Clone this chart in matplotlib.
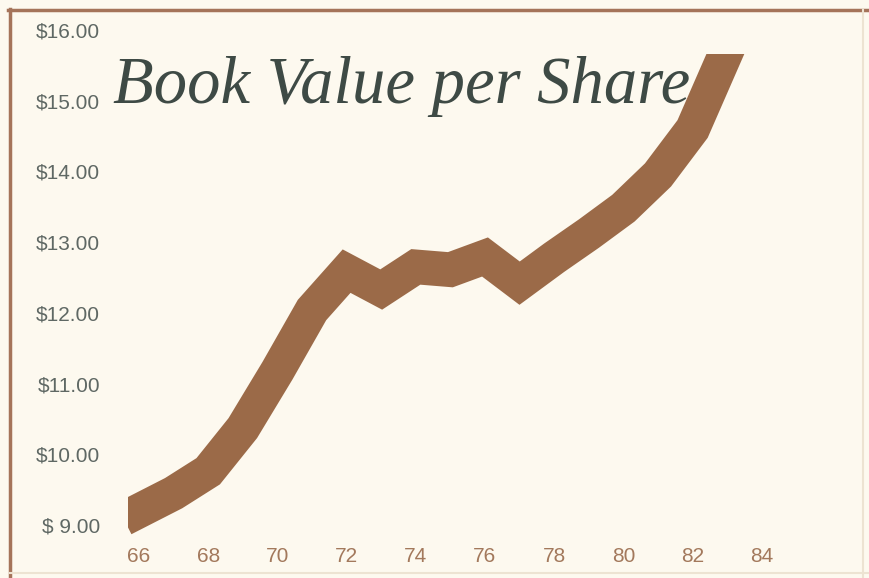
import matplotlib
matplotlib.use("Agg")
import matplotlib.pyplot as plt
from matplotlib.patches import Rectangle
from matplotlib.lines import Line2D

# data
years = [66, 67, 68, 69, 70, 71, 72, 73, 74, 75, 76, 77, 78, 79, 80, 81, 82, 83]
book_value = [9.20, 9.45, 9.76, 10.37, 11.18, 12.04, 12.59, 12.33, 12.65, 12.61,
              12.79, 12.42, 12.78, 13.12, 13.48, 13.95, 14.60, 15.72]
x_ticks = [66, 68, 70, 72, 74, 76, 78, 80, 82, 84]
y_ticks = [9, 10, 11, 12, 13, 14, 15, 16]
y_labels = ["$ 9.00", "$10.00", "$11.00", "$12.00", "$13.00", "$14.00", "$15.00", "$16.00"]

bg = "#FDF9EF"
band = "#9B6A48"
frame = "#A5745A"

W, H = 869, 578
fig = plt.figure(figsize=(W / 100, H / 100), dpi=100, facecolor=bg)

# axes placed in pixel terms
left_px, right_px, top_px, bot_px = 128, 850, 20, 540
ax = fig.add_axes([left_px / W, 1 - bot_px / H, (right_px - left_px) / W, (bot_px - top_px) / H])
ax.set_facecolor("none")

px_per_year = 34.6
px_per_dollar = 70.714
x0 = 66 - (139 - left_px) / px_per_year
ax.set_xlim(x0, 66 + (right_px - 139) / px_per_year)
ax.set_ylim(9 - (bot_px - 525) / px_per_dollar, 9 + (525 - top_px) / px_per_dollar)

line, = ax.plot(years, book_value, color=band, linewidth=25,
                solid_joinstyle="miter", solid_capstyle="projecting")
# band is cut square at the left edge and flat where it runs off the top
clip = Rectangle((x0, 0), 40, 9 + (525 - 54) / px_per_dollar, transform=ax.transData)
line.set_clip_path(clip)

ax.set_xticks(x_ticks)
ax.set_xticklabels([str(t) for t in x_ticks])
ax.set_yticks(y_ticks)
ax.set_yticklabels(y_labels)
ax.tick_params(axis="x", length=0, pad=5, labelsize=15, labelcolor="#A3795C")
ax.tick_params(axis="y", length=0, pad=20, labelsize=15, labelcolor="#5F6864")
for lab in ax.get_xticklabels() + ax.get_yticklabels():
    lab.set_fontfamily("Liberation Sans")
for s in ax.spines.values():
    s.set_visible(False)

# script title
fig.text(402 / W, 1 - 103 / H, "Book Value per Share", ha="center", va="baseline",
         fontsize=48, fontstyle="italic", family="Liberation Serif", color="#3E4A45")

# frame lines
fig.add_artist(Line2D([8 / W, 1], [1 - 10 / H, 1 - 10 / H], color=frame, linewidth=2.5))
fig.add_artist(Line2D([10 / W, 10 / W], [0, 1 - 9 / H], color=frame, linewidth=2.5))
fig.add_artist(Line2D([10 / W, 1], [1 - 573 / H, 1 - 573 / H], color="#EDE3D2", linewidth=1.5))
fig.add_artist(Line2D([863 / W, 863 / W], [0, 1 - 10 / H], color="#EDE3D2", linewidth=1.5))

fig.savefig("out.png", dpi=100, facecolor=bg)
